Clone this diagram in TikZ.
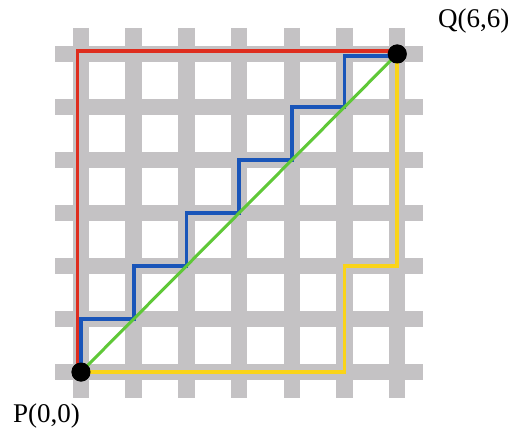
\documentclass[tikz,border=0pt]{standalone}
\usepackage{fontspec}
\setmainfont{Liberation Serif}
\definecolor{streetgray}{RGB}{196,194,196}
\definecolor{pred}{RGB}{222,45,30}
\definecolor{pblue}{RGB}{25,85,185}
\definecolor{pgreen}{RGB}{95,200,55}
\definecolor{pyellow}{RGB}{250,212,25}
\begin{document}
\begin{tikzpicture}[x=1pt,y=-1pt,
  street/.style={draw=streetgray,line width=16.5pt},
  route/.style={line width=3.8pt,line join=miter},
  dot/.style={circle,fill=black,inner sep=0pt,minimum size=19pt},
  lbl/.style={font=\fontsize{27}{30}\selectfont,inner sep=0pt}]
\useasboundingbox (0,0) rectangle (521,428);
\fill[white] (0,0) rectangle (521,428);
% streets
\foreach \i in {0,...,6} {
  \pgfmathsetmacro\gx{81+52.7*\i}
  \pgfmathsetmacro\gy{372-53*\i}
  \draw[street] (\gx,28) -- (\gx,398);
  \draw[street] (55,\gy) -- (423,\gy);
}
% grid points
\foreach \i in {0,...,6} {
  \foreach \j in {0,...,6} {
    \coordinate (c\i-\j) at ({81+52.7*\i},{372-53*\j});
  }
}
\node[dot] (P) at (c0-0) {};
\node[dot] (Q) at (c6-6) {};
% yellow route
\draw[route,pyellow] (P.center) -- (c5-0) -- (c5-2) -- (c6-2) -- (Q.center);
% blue staircase
\draw[route,pblue] (P.center) -- (c0-1) -- (c1-1) -- (c1-2) -- (c2-2) -- (c2-3) -- (c3-3)
  -- (c3-4) -- (c4-4) -- (c4-5) -- (c5-5) -- ([yshift=-2pt]c5-6) -- ([yshift=-2pt]Q.center);
% red route
\draw[route,pred] ([xshift=-3.5pt]P.center) -- ([xshift=-3.5pt,yshift=3pt]c0-6) -- ([yshift=3pt]Q.center);
% green diagonal
\draw[route,pgreen,line width=3pt] (P.center) -- (Q.center);
% dots on top
\fill[black] (P.center) circle (9.5pt);
\fill[black] (Q.center) circle (9.5pt);
% labels
\node[lbl,anchor=base west] (Plbl) at (13,422) {P(0,0)};
\node[lbl,anchor=base west] (Qlbl) at (438,28) {Q(6,6)};
\end{tikzpicture}
\end{document}
